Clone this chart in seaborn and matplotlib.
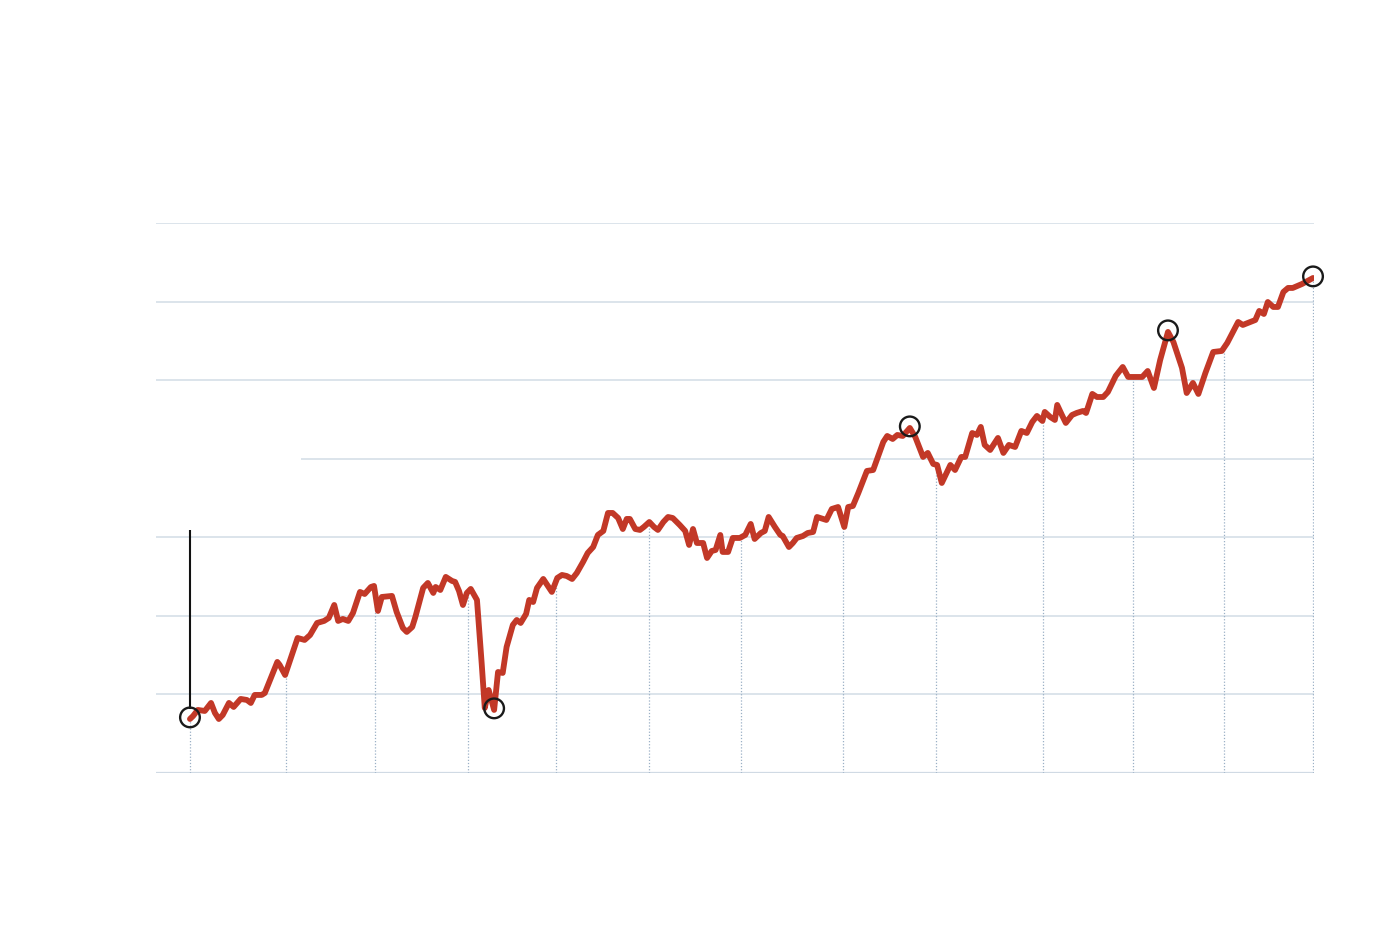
import numpy as np
import pandas as pd
import matplotlib.pyplot as plt
import seaborn as sns

# months since start
months = [0.0, 0.4, 1.0, 1.9, 2.7, 3.2, 3.7, 4.2, 5.0, 5.6,
          6.5, 7.3, 7.8, 8.3, 9.2, 9.6, 11.2, 11.5, 12.2, 13.8,
          14.7, 15.4, 16.3, 17.2, 17.8, 18.5, 19.0, 19.6, 20.3, 20.9,
          21.8, 22.4, 23.2, 23.6, 24.1, 24.6, 25.9, 26.5, 27.3, 27.8,
          28.5, 28.9, 29.9, 30.5, 31.2, 31.5, 32.1, 32.8, 33.6, 34.0,
          34.5, 35.0, 35.5, 36.0, 36.8, 37.4, 37.8, 38.3, 39.0, 39.5,
          40.1, 40.6, 41.4, 41.9, 42.4, 43.1, 43.5, 44.0, 44.5, 45.3,
          46.4, 47.1, 47.7, 48.3, 49.0, 49.6, 50.4, 51.0, 51.7, 52.3,
          53.0, 53.6, 54.2, 54.9, 55.5, 56.0, 56.4, 57.1, 57.7, 58.2,
          58.9, 59.5, 60.0, 60.7, 61.3, 61.9, 62.8, 63.5, 64.0, 64.5,
          65.0, 65.8, 66.3, 66.9, 67.4, 68.0, 68.3, 69.0, 69.6, 70.5,
          71.2, 71.9, 72.4, 73.2, 73.7, 74.2, 75.0, 75.7, 76.0, 76.8,
          77.3, 77.8, 78.6, 79.2, 79.9, 80.4, 81.6, 82.3, 83.1, 83.9,
          84.4, 85.0, 85.7, 86.8, 87.6, 88.2, 88.9, 89.4, 90.1, 90.7,
          91.4, 92.3, 93.0, 94.0, 94.6, 95.3, 95.8, 96.4, 97.5, 98.1,
          98.9, 99.4, 100.3, 100.9, 101.4, 101.9, 102.6, 103.6, 104.3, 105.0,
          105.8, 106.6, 107.3, 108.0, 108.6, 109.3, 109.6, 110.3, 110.9, 111.2,
          111.8, 112.3, 113.1, 113.7, 114.5, 114.9, 115.7, 116.3, 117.1, 117.7,
          118.7, 119.6, 120.3, 122.1, 122.8, 123.6, 124.4, 125.4, 126.1, 127.2,
          127.8, 128.6, 129.3, 130.2, 131.2, 132.3, 133.0, 134.4, 135.0, 136.6,
          137.1, 137.7, 138.2, 138.9, 139.5, 140.2, 140.8, 141.4, 142.6, 144.0]

values = [6.87, 7.25, 8.02, 7.89, 8.91, 7.64, 6.87, 7.38, 8.91, 8.40,
          9.42, 9.29, 8.91, 9.93, 9.93, 10.18, 14.13, 13.75, 12.47, 17.18,
          16.93, 17.56, 19.09, 19.35, 19.73, 21.38, 19.35, 19.60, 19.35, 20.36,
          23.04, 22.78, 23.67, 23.80, 20.62, 22.40, 22.53, 20.49, 18.45, 17.95,
          18.58, 19.85, 23.55, 24.18, 22.91, 23.67, 23.29, 24.95, 24.44, 24.31,
          23.16, 21.38, 22.91, 23.42, 22.02, 14.00, 8.27, 10.56, 8.02, 12.85,
          12.73, 16.04, 18.84, 19.47, 19.09, 20.24, 22.02, 21.76, 23.55, 24.69,
          23.04, 24.82, 25.20, 25.07, 24.69, 25.45, 26.85, 28.00, 28.76, 30.29,
          30.80, 33.09, 33.09, 32.45, 31.05, 32.33, 32.33, 31.05, 30.93, 31.31,
          31.94, 31.31, 30.93, 31.94, 32.58, 32.45, 31.56, 30.80, 29.02, 31.05,
          29.27, 29.27, 27.36, 28.25, 28.38, 30.29, 28.13, 28.13, 29.91, 29.91,
          30.29, 31.69, 29.78, 30.54, 30.80, 32.58, 31.31, 30.29, 30.16, 28.76,
          29.27, 29.91, 30.16, 30.54, 30.67, 32.58, 32.20, 33.60, 33.85, 31.31,
          33.85, 33.98, 35.64, 38.44, 38.56, 40.22, 42.13, 42.89, 42.51, 43.02,
          42.89, 43.91, 42.76, 40.22, 40.73, 39.33, 39.20, 36.91, 39.20, 38.56,
          40.22, 40.22, 43.27, 43.02, 44.04, 41.75, 41.11, 42.64, 40.73, 41.75,
          41.49, 43.53, 43.27, 44.67, 45.44, 44.80, 45.95, 45.31, 44.93, 46.84,
          45.56, 44.55, 45.56, 45.82, 46.07, 45.82, 48.24, 47.85, 47.85, 48.49,
          50.53, 51.67, 50.40, 50.40, 51.16, 49.00, 52.56, 56.13, 54.85, 51.55,
          48.36, 49.64, 48.24, 50.91, 53.58, 53.71, 54.73, 57.40, 57.02, 57.65,
          58.80, 58.42, 59.94, 59.31, 59.31, 61.22, 61.73, 61.73, 62.24, 63.00]

# marked points: start, crash low, first peak, second peak, latest
marked = [0, 58, 141, 187, 209]

# positions of the yearly drop lines
drop_months = [0.0, 12.3, 23.7, 35.6, 46.9, 58.8, 70.7, 83.7, 95.7, 109.4, 120.9, 132.6, 144.0]

grid_levels = [10, 20, 30, 40, 50, 60, 70]

df = pd.DataFrame({'month': months, 'value': values})

sns.set_style('white')
fig = plt.figure(figsize=(14, 9.4), dpi=100)
ax = fig.add_axes([0.1114, 0.1777, 0.8272, 0.5851])
ax.set_xlim(-4.36, 144.13)
ax.set_ylim(0, 70)

grid_color = '#d6dfe8'
for lvl in grid_levels:
    start = 14.2 if lvl == 40 else -4.36
    ax.hlines(lvl, start, 144.13, color=grid_color, linewidth=1.2, zorder=1)
ax.hlines(0, -4.36, 144.13, color='#d0dae4', linewidth=1.6, zorder=1)

# dotted drop lines from the series down to the baseline
for m in drop_months:
    top = np.interp(m, months, values)
    ax.vlines(m, 0, top, color='#9bb0c6', linewidth=0.9, linestyle=(0, (1, 1.5)), zorder=2)

sns.lineplot(data=df, x='month', y='value', sort=False, color='#c23827',
             linewidth=4.2, ax=ax, zorder=3, solid_joinstyle='round',
             solid_capstyle='round')

# leader line above the first point
ax.vlines(0, 8.2, 30.9, color='#111111', linewidth=1.5, zorder=4)

ax.scatter([months[i] for i in marked], [values[i] + 0.2 for i in marked],
           s=200, facecolors='none', edgecolors='#1a1a1a', linewidths=1.7,
           zorder=5, clip_on=False)

ax.set_xlabel('')
ax.set_ylabel('')
ax.set_xticks([])
ax.set_yticks([])
sns.despine(ax=ax, left=True, bottom=True)

fig.savefig('out.png', dpi=100, facecolor='white')
